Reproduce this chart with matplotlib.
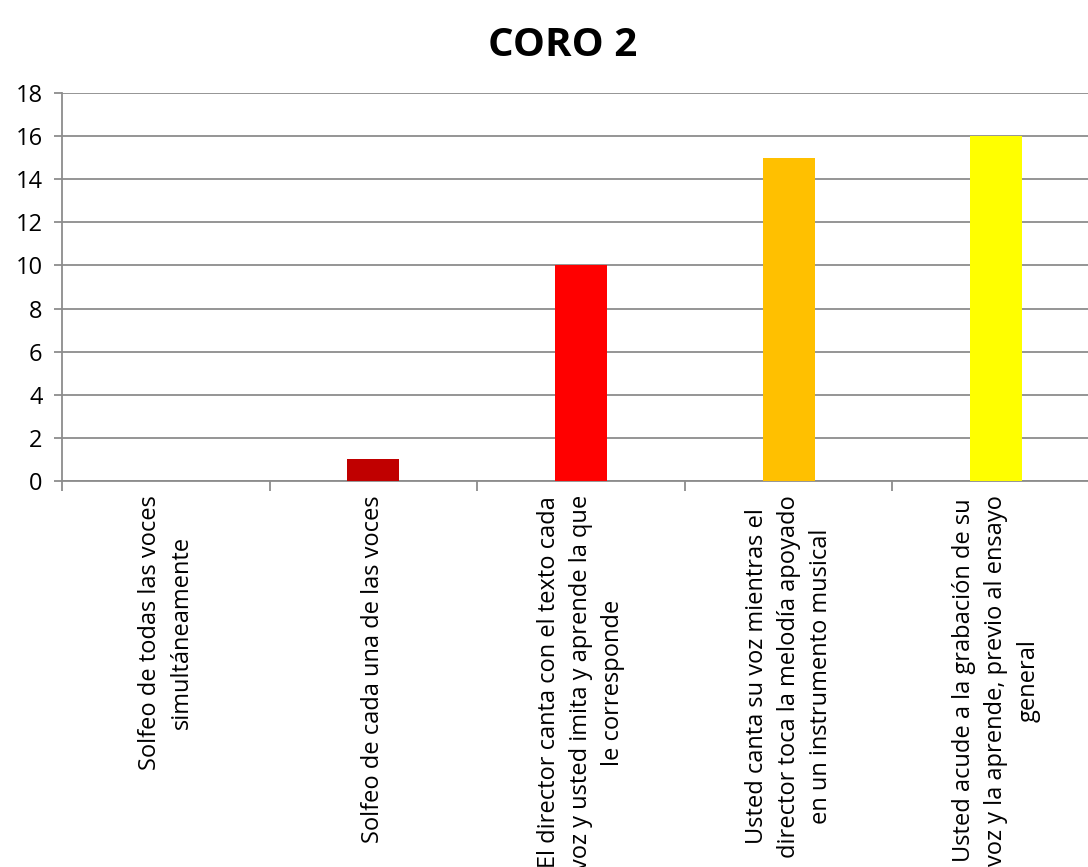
from matplotlib import pyplot as plt
import numpy as np

plt.rcParams['font.family'] = ['Open Sans', 'DejaVu Sans']

categories = [
    "Solfeo de todas las voces\nsimultáneamente",
    "Solfeo de cada una de las voces",
    "El director canta con el texto cada\nvoz y usted imita y aprende la que\nle corresponde",
    "Usted canta su voz mientras el\ndirector toca la melodía apoyado\nen un instrumento musical",
    "Usted acude a la grabación de su\nvoz y la aprende, previo al ensayo\ngeneral",
]
values = [0, 1, 10, 15, 16]
colors = ['#C00000', '#C00000', '#FF0000', '#FFC000', '#FFFF00']

fig = plt.figure(figsize=(10.88, 8.67), dpi=100)
ax = fig.add_axes([62/1088, 1 - 481/867, 1038/1088, 388/867])

x = np.arange(len(categories))
ax.bar(x, values, width=0.25, color=colors, zorder=3)

ax.set_xlim(-0.5, len(categories) - 0.5)
ax.set_ylim(0, 18)
ax.set_yticks(np.arange(0, 19, 2))
ax.yaxis.grid(True, color='#8c8c8c', linewidth=1.3, zorder=0)
for s in ['top', 'right']:
    ax.spines[s].set_visible(False)
for s in ['left', 'bottom']:
    ax.spines[s].set_color('#8c8c8c')
    ax.spines[s].set_linewidth(1.3)

# tick marks at category boundaries, labels at centres
ax.set_xticks(np.arange(-0.5, len(categories) + 0.5, 1))
ax.set_xticklabels([])
ax.set_xticks(x, minor=True)
ax.set_xticklabels(categories, minor=True, rotation=90, ha='center', va='top',
                   multialignment='center', fontsize=17, linespacing=1.45)
ax.tick_params(axis='x', which='major', length=7, width=1.3, color='#8c8c8c')
ax.tick_params(axis='x', which='minor', length=0, pad=10)
ax.tick_params(axis='y', length=6, width=1.3, color='#8c8c8c', labelsize=17, pad=8)

fig.text(0.517, 0.947, "CORO 2", ha='center', va='center', fontsize=29, fontweight='bold')

plt.savefig("out.png", dpi=100)
